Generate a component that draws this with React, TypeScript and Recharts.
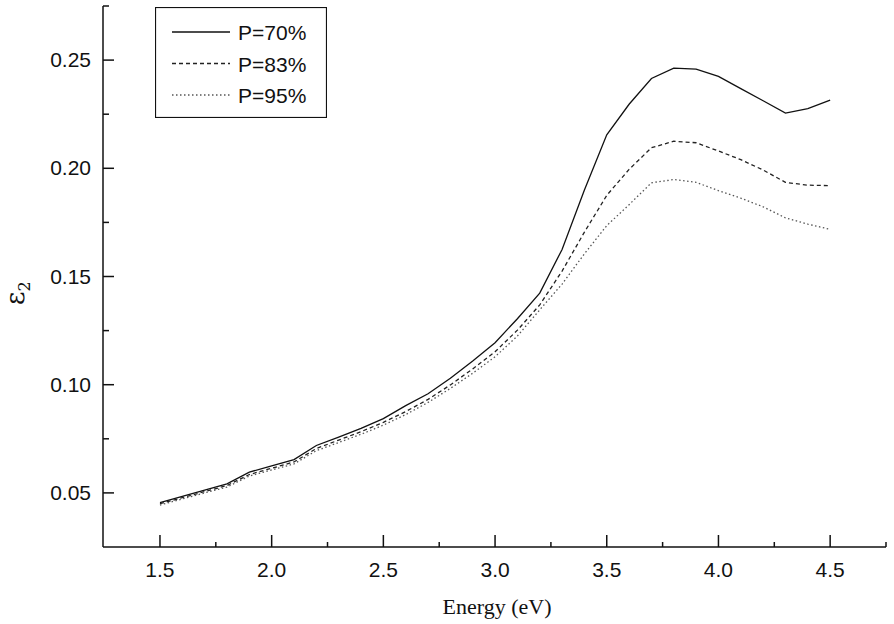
import { LineChart, Line, XAxis, YAxis, Legend } from "recharts";

const energy = [
  1.5, 1.6, 1.7, 1.8, 1.9, 2.0, 2.1, 2.2, 2.3, 2.4, 2.5, 2.6, 2.7, 2.8, 2.9, 3.0,
  3.1, 3.2, 3.3, 3.4, 3.5, 3.6, 3.7, 3.8, 3.9, 4.0, 4.1, 4.2, 4.3, 4.4, 4.5,
];
const p70 = [
  0.0455, 0.0484, 0.0513, 0.0542, 0.0596, 0.0625, 0.0654, 0.0719, 0.0758, 0.0798,
  0.0843, 0.0903, 0.0958, 0.103, 0.111, 0.1194, 0.1305, 0.1423, 0.1625, 0.19,
  0.2155, 0.2296, 0.2415, 0.2463, 0.2458, 0.2425, 0.2368, 0.2312, 0.2255, 0.2276, 0.2315,
];
const p83 = [
  0.045, 0.0478, 0.0506, 0.0534, 0.0585, 0.0614, 0.0643, 0.0705, 0.0744, 0.0783,
  0.0826, 0.0876, 0.0932, 0.0999, 0.1073, 0.1152, 0.1252, 0.1369, 0.1525, 0.1705,
  0.1875, 0.1995, 0.2095, 0.2125, 0.2118, 0.208, 0.204, 0.1992, 0.1935, 0.1922, 0.192,
];
const p95 = [
  0.0444, 0.0472, 0.05, 0.0527, 0.0578, 0.0606, 0.0634, 0.0695, 0.0733, 0.0771,
  0.0813, 0.0862, 0.0918, 0.0983, 0.1053, 0.1129, 0.1225, 0.1346, 0.1465, 0.1605,
  0.1735, 0.1832, 0.1933, 0.1948, 0.1935, 0.1897, 0.1862, 0.1822, 0.1771, 0.1742, 0.1718,
];

const xMajor = [1.5, 2.0, 2.5, 3.0, 3.5, 4.0, 4.5];
const xMinor = [1.75, 2.25, 2.75, 3.25, 3.75, 4.25, 4.75];
const yMajor = [0.05, 0.1, 0.15, 0.2, 0.25];
const yMinor = [0.075, 0.125, 0.175, 0.225, 0.275];

const series = [
  { key: "p70", name: "P=70%", color: "#111", dash: undefined, width: 1.3 },
  { key: "p83", name: "P=83%", color: "#222", dash: "4 3", width: 1.3 },
  { key: "p95", name: "P=95%", color: "#555", dash: "1.5 2.5", width: 1.3 },
];

const data = energy.map((e, i) => ({ e, p70: p70[i], p83: p83[i], p95: p95[i] }));

const sans = "'Liberation Sans', Arial, sans-serif";
const isMajor = (list: number[], v: number) => list.some((m) => Math.abs(m - v) < 1e-6);

function XTick({ x, y, payload }: any) {
  const major = isMajor(xMajor, payload.value);
  return (
    <g>
      <line x1={x} x2={x} y1={y} y2={y - (major ? 12 : 5)} stroke="#111" strokeWidth={1.5} />
      {major && (
        <text x={x} y={y + 30} textAnchor="middle" fontSize={21} fontFamily={sans} fill="#111">
          {payload.value.toFixed(1)}
        </text>
      )}
    </g>
  );
}

function YTick({ x, y, payload }: any) {
  const major = isMajor(yMajor, payload.value);
  return (
    <g>
      <line x1={x} x2={x + (major ? 11 : 6)} y1={y} y2={y} stroke="#111" strokeWidth={1.5} />
      {major && (
        <text x={x - 12} y={y + 7} textAnchor="end" fontSize={21} fontFamily={sans} fill="#111">
          {payload.value.toFixed(2)}
        </text>
      )}
    </g>
  );
}

function LegendBox() {
  return (
    <svg width={172} height={111} style={{ display: "block" }}>
      <rect x={0.5} y={0.5} width={171} height={110} fill="#fff" stroke="#111" strokeWidth={1.2} />
      {series.map((s, i) => (
        <g key={s.key}>
          <line
            x1={17}
            x2={75}
            y1={25 + i * 31.5}
            y2={25 + i * 31.5}
            stroke={s.color}
            strokeWidth={s.width}
            strokeDasharray={s.dash}
          />
          <text x={83} y={33 + i * 31.5} fontSize={21} fontFamily={sans} fill="#111">
            {s.name}
          </text>
        </g>
      ))}
    </svg>
  );
}

export default function App() {
  return (
    <div style={{ position: "absolute", left: 0, top: 0, background: "#fff" }}>
      <LineChart
        width={894}
        height={624}
        data={data}
        margin={{ top: 6, right: 8, bottom: 47, left: 43 }}
      >
        <XAxis
          type="number"
          dataKey="e"
          domain={[1.245, 4.75]}
          ticks={[...xMajor, ...xMinor].sort((a, b) => a - b)}
          tick={<XTick />}
          tickLine={false}
          tickSize={0}
          tickMargin={0}
          axisLine={{ stroke: "#111", strokeWidth: 1.5 }}
          height={30}
          interval={0}
          allowDataOverflow
        />
        <YAxis
          type="number"
          domain={[0.025, 0.275]}
          ticks={[...yMajor, ...yMinor].sort((a, b) => a - b)}
          tick={<YTick />}
          tickLine={false}
          tickSize={0}
          tickMargin={0}
          axisLine={{ stroke: "#111", strokeWidth: 1.5 }}
          width={60}
          interval={0}
          allowDataOverflow
        />
        <Legend
          layout="vertical"
          align="center"
          verticalAlign="middle"
          wrapperStyle={{ left: 155, top: 7, width: 172, height: 111 }}
          content={<LegendBox />}
        />
        {series.map((s) => (
          <Line
            key={s.key}
            type="linear"
            dataKey={s.key}
            name={s.name}
            stroke={s.color}
            strokeWidth={s.width}
            strokeDasharray={s.dash}
            dot={false}
            isAnimationActive={false}
          />
        ))}
        <text x={497} y={614} textAnchor="middle" fontSize={22} fontFamily="'Liberation Serif', 'Times New Roman', serif" fill="#111">
          Energy (eV)
        </text>
        <text
          x={24}
          y={305}
          transform="rotate(-90 24 305)"
          fontSize={26}
          fontFamily="'DejaVu Serif', 'Liberation Serif', serif"
          fill="#111"
        >
          ε<tspan fontSize={16} dy={6}>2</tspan>
        </text>
      </LineChart>
    </div>
  );
}
